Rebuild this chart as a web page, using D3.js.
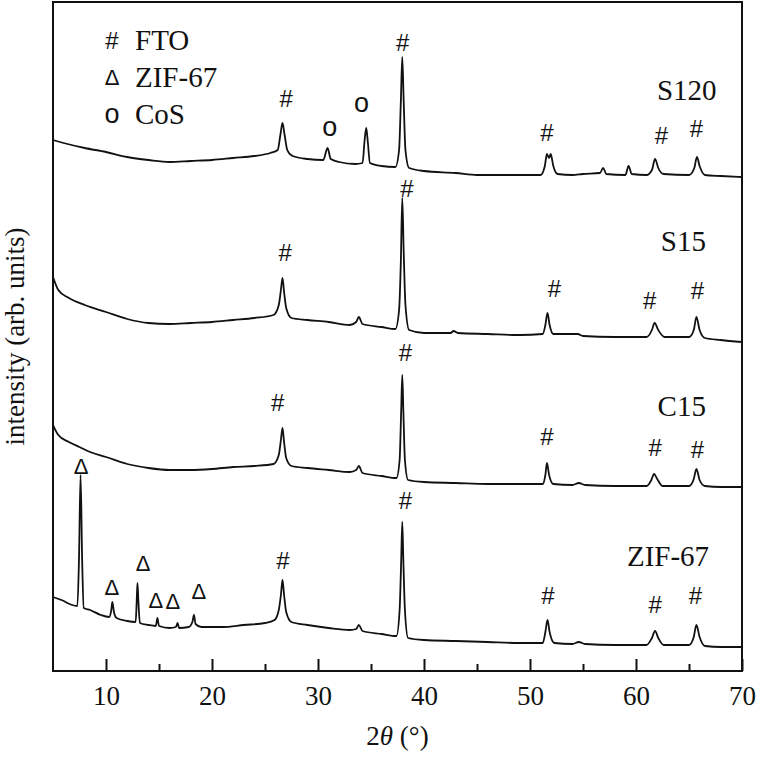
<!DOCTYPE html>
<html><head><meta charset="utf-8">
<script src="https://cdn.jsdelivr.net/npm/d3@7"></script>
<style>body{margin:0;background:#fff}</style>
</head><body>
<script>
// 2θ (degrees) and intensity (arb. units)
const s120 = [[5.0,531],[6.0,528],[8.0,523],[10.0,519],[12.0,514],[14.0,511],[16.0,509],[18.0,510],[20.0,511],[22.0,513],[24.0,515],[25.5,518],[26.2,521],[26.45,536],[26.65,548],[26.85,536],[27.1,521],[27.6,515],[29.0,512],[30.5,511],[30.9,523],[31.2,512],[32.0,509],[33.5,507],[34.2,508],[34.4,531],[34.55,543],[34.7,529],[34.9,508],[36.0,505],[37.3,504],[37.65,521],[37.82,571],[37.95,614],[38.08,571],[38.25,521],[38.6,503],[40.0,500],[43.0,498],[45.0,496],[48.0,496],[51.0,496],[51.4,505],[51.6,517],[51.8,513],[51.95,517],[52.2,505],[52.6,497],[54.0,496],[55.0,497],[56.6,498],[56.9,503],[57.2,497],[59.0,496],[59.3,505],[59.6,497],[61.0,496],[61.5,501],[61.8,512],[62.1,503],[62.6,497],[65.0,496],[65.5,503],[65.75,514],[66.0,505],[66.5,496],[68.0,495],[70.0,494]];
const s15 = [[5.0,394],[5.5,381],[6.5,373],[8.0,366],[10.0,359],[12.0,352],[14.0,348],[16.0,347],[18.0,348],[20.0,349],[22.0,351],[24.0,353],[25.8,356],[26.3,366],[26.5,381],[26.65,393],[26.8,379],[27.0,363],[27.5,353],[29.0,351],[31.0,349],[33.0,346],[33.6,349],[33.85,354],[34.2,347],[36.0,344],[37.3,342],[37.65,361],[37.82,411],[37.95,473],[38.08,421],[38.25,366],[38.6,341],[40.0,338],[42.5,338],[42.8,340],[43.2,338],[46.0,337],[49.0,336],[51.2,337],[51.45,346],[51.65,358],[51.85,346],[52.2,337],[54.5,337],[55.0,335],[58.0,334],[61.0,334],[61.5,341],[61.75,348],[62.1,341],[62.7,334],[65.0,334],[65.45,341],[65.7,354],[66.0,341],[66.5,333],[68.0,331],[70.0,329]];
const c15 = [[5.0,246],[5.5,236],[6.5,229],[7.5,224],[8.5,219],[10.0,214],[12.0,207],[14.0,203],[16.0,201],[18.0,201],[20.0,202],[22.0,204],[24.0,205],[25.8,207],[26.3,216],[26.5,231],[26.65,243],[26.8,229],[27.0,213],[27.5,205],[29.0,203],[31.0,201],[33.0,199],[33.6,201],[33.85,205],[34.2,198],[36.0,195],[37.4,193],[37.7,211],[37.85,261],[37.95,296],[38.05,261],[38.2,211],[38.5,191],[40.0,189],[43.0,188],[46.0,187],[49.0,187],[51.2,187],[51.45,196],[51.6,208],[51.8,196],[52.2,187],[54.0,186],[54.6,188],[55.2,186],[58.0,185],[61.0,185],[61.45,191],[61.7,197],[62.0,192],[62.5,185],[65.0,185],[65.45,192],[65.7,202],[66.0,191],[66.5,185],[68.0,184],[70.0,184]];
const zif67 = [[5.0,74],[5.8,71],[6.8,66],[7.3,65],[7.45,111],[7.6,196],[7.75,111],[7.9,63],[8.5,61],[9.5,56],[10.3,54],[10.5,61],[10.6,69],[10.75,59],[11.0,53],[12.0,50],[12.8,49],[12.9,71],[12.97,88],[13.05,71],[13.2,48],[14.0,46],[14.7,45],[14.85,53],[15.0,45],[16.0,43],[16.6,44],[16.75,48],[16.9,43],[17.8,44],[18.15,49],[18.3,56],[18.45,47],[19.0,44],[21.0,44],[23.0,46],[25.0,48],[25.9,51],[26.3,61],[26.5,76],[26.65,91],[26.8,76],[27.0,59],[27.5,49],[29.0,46],[31.0,43],[33.0,41],[33.6,42],[33.85,46],[34.2,40],[36.0,37],[37.4,35],[37.7,61],[37.85,111],[37.95,149],[38.05,111],[38.2,61],[38.5,33],[40.0,31],[43.0,30],[46.0,29],[49.0,28],[51.2,28],[51.45,39],[51.65,51],[51.85,39],[52.3,28],[54.0,27],[54.6,29],[55.2,27],[58.0,26],[61.0,26],[61.5,33],[61.8,40],[62.1,33],[62.6,26],[65.0,26],[65.45,34],[65.7,46],[66.0,34],[66.5,25],[68.0,24],[70.0,24]];

const seriesNames = ["S120","S15","C15","ZIF-67"];
// label anchor (2θ at right end of text, intensity at baseline)
const seriesLabelPos = [[67.6,571],[66.6,420],[66.6,255],[66.9,105]];

// peak markers: [symbol, 2θ, intensity]
const markers = [
  ["#",27.0,573],["o",31.1,544],["o",34.1,568],["#",38.0,629],["#",51.6,539],["#",62.4,536],["#",65.7,543],
  ["#",26.9,419],["#",38.4,483],["#",52.3,383],["#",61.3,371],["#",65.8,381],
  ["#",26.2,269],["#",38.25,319],["#",51.6,235],["#",61.8,224],["#",65.8,222],
  ["\u0394",7.64,205],["\u0394",10.56,84],["\u0394",13.5,108],["\u0394",14.7,71],["\u0394",16.3,70],["\u0394",18.75,80],
  ["#",26.7,111],["#",38.25,171],["#",51.7,76],["#",61.8,67],["#",65.6,76]
];
const legendSymbols = ["#","\u0394","o"];
const legendLabels = ["FTO","ZIF-67","CoS"];
const majorTicks = [10,20,30,40,50,60,70];
const minorTicks = [15,25,35,45,55,65];

const W = 758, H = 757;
const L = 53, R = 742, T = 2, B = 671;
const serif = "'Liberation Serif','Times New Roman',serif";
const sans = "'Liberation Sans',Arial,sans-serif";

const svg = d3.select("body").append("svg").attr("width",W).attr("height",H);
const x = d3.scaleLinear().domain([5,70]).range([L,R]);
const y = d3.scaleLinear().domain([0,669]).range([B,T]);

const line = d3.line().x(d=>x(d[0])).y(d=>y(d[1])).curve(d3.curveMonotoneX);
[s120,s15,c15,zif67].forEach(s=>{
  svg.append("path").datum(s).attr("d",line)
    .attr("fill","none").attr("stroke","#111").attr("stroke-width",1.8).attr("stroke-linejoin","round");
});

// frame
svg.append("rect").attr("x",L).attr("y",T).attr("width",R-L).attr("height",B-T)
  .attr("fill","none").attr("stroke","#111").attr("stroke-width",2);

// x axis with inward ticks
const xAxis = d3.axisBottom(x).tickValues(majorTicks).tickSize(-12).tickPadding(26).tickFormat(d3.format("d"));
const gx = svg.append("g").attr("transform",`translate(0,${B})`).call(xAxis);
gx.select(".domain").remove();
gx.selectAll(".tick line").attr("stroke","#111").attr("stroke-width",2);
gx.selectAll(".tick text").attr("font-family",serif).attr("font-size",27).attr("fill","#111").attr("dy","0.3em");
const gm = svg.append("g").attr("transform",`translate(0,${B})`)
  .call(d3.axisBottom(x).tickValues(minorTicks).tickSize(-7).tickFormat(""));
gm.select(".domain").remove();
gm.selectAll(".tick line").attr("stroke","#111").attr("stroke-width",2);

// axis titles
const xt = svg.append("text").attr("x",(L+R)/2).attr("y",745).attr("text-anchor","middle")
  .attr("font-family",serif).attr("font-size",27).attr("fill","#111");
xt.append("tspan").text("2");
xt.append("tspan").attr("font-style","italic").text("\u03b8");
xt.append("tspan").text(" (\u00b0)");

svg.append("text").attr("transform",`translate(24,${(T+B)/2}) rotate(-90)`).attr("text-anchor","middle")
  .attr("font-family",serif).attr("font-size",27).attr("fill","#111").text("intensity (arb. units)");

// series labels
seriesNames.forEach((n,i)=>{
  svg.append("text").attr("x",x(seriesLabelPos[i][0])).attr("y",y(seriesLabelPos[i][1]))
    .attr("text-anchor","end").attr("font-family",serif).attr("font-size",29).attr("fill","#111").text(n);
});

// markers
markers.forEach(m=>{
  const isTri = m[0]==="\u0394";
  svg.append("text").attr("x",x(m[1])).attr("y",y(m[2])).attr("text-anchor","middle")
    .attr("dominant-baseline","central")
    .attr("font-family",sans).attr("font-size",isTri?22:(m[0]==="o"?27:24)).attr("fill","#111").text(m[0]);
});

// legend
legendLabels.forEach((lab,i)=>{
  const yy = 40 + i*37;
  svg.append("text").attr("x",112).attr("y",yy).attr("text-anchor","middle").attr("dominant-baseline","central")
    .attr("font-family",sans).attr("font-size",legendSymbols[i]==="o"?27:(legendSymbols[i]==="#"?24:22)).attr("fill","#111").text(legendSymbols[i]);
  svg.append("text").attr("x",135).attr("y",yy).attr("dominant-baseline","central")
    .attr("font-family",serif).attr("font-size",29).attr("fill","#111").text(lab);
});
</script>
</body></html>
